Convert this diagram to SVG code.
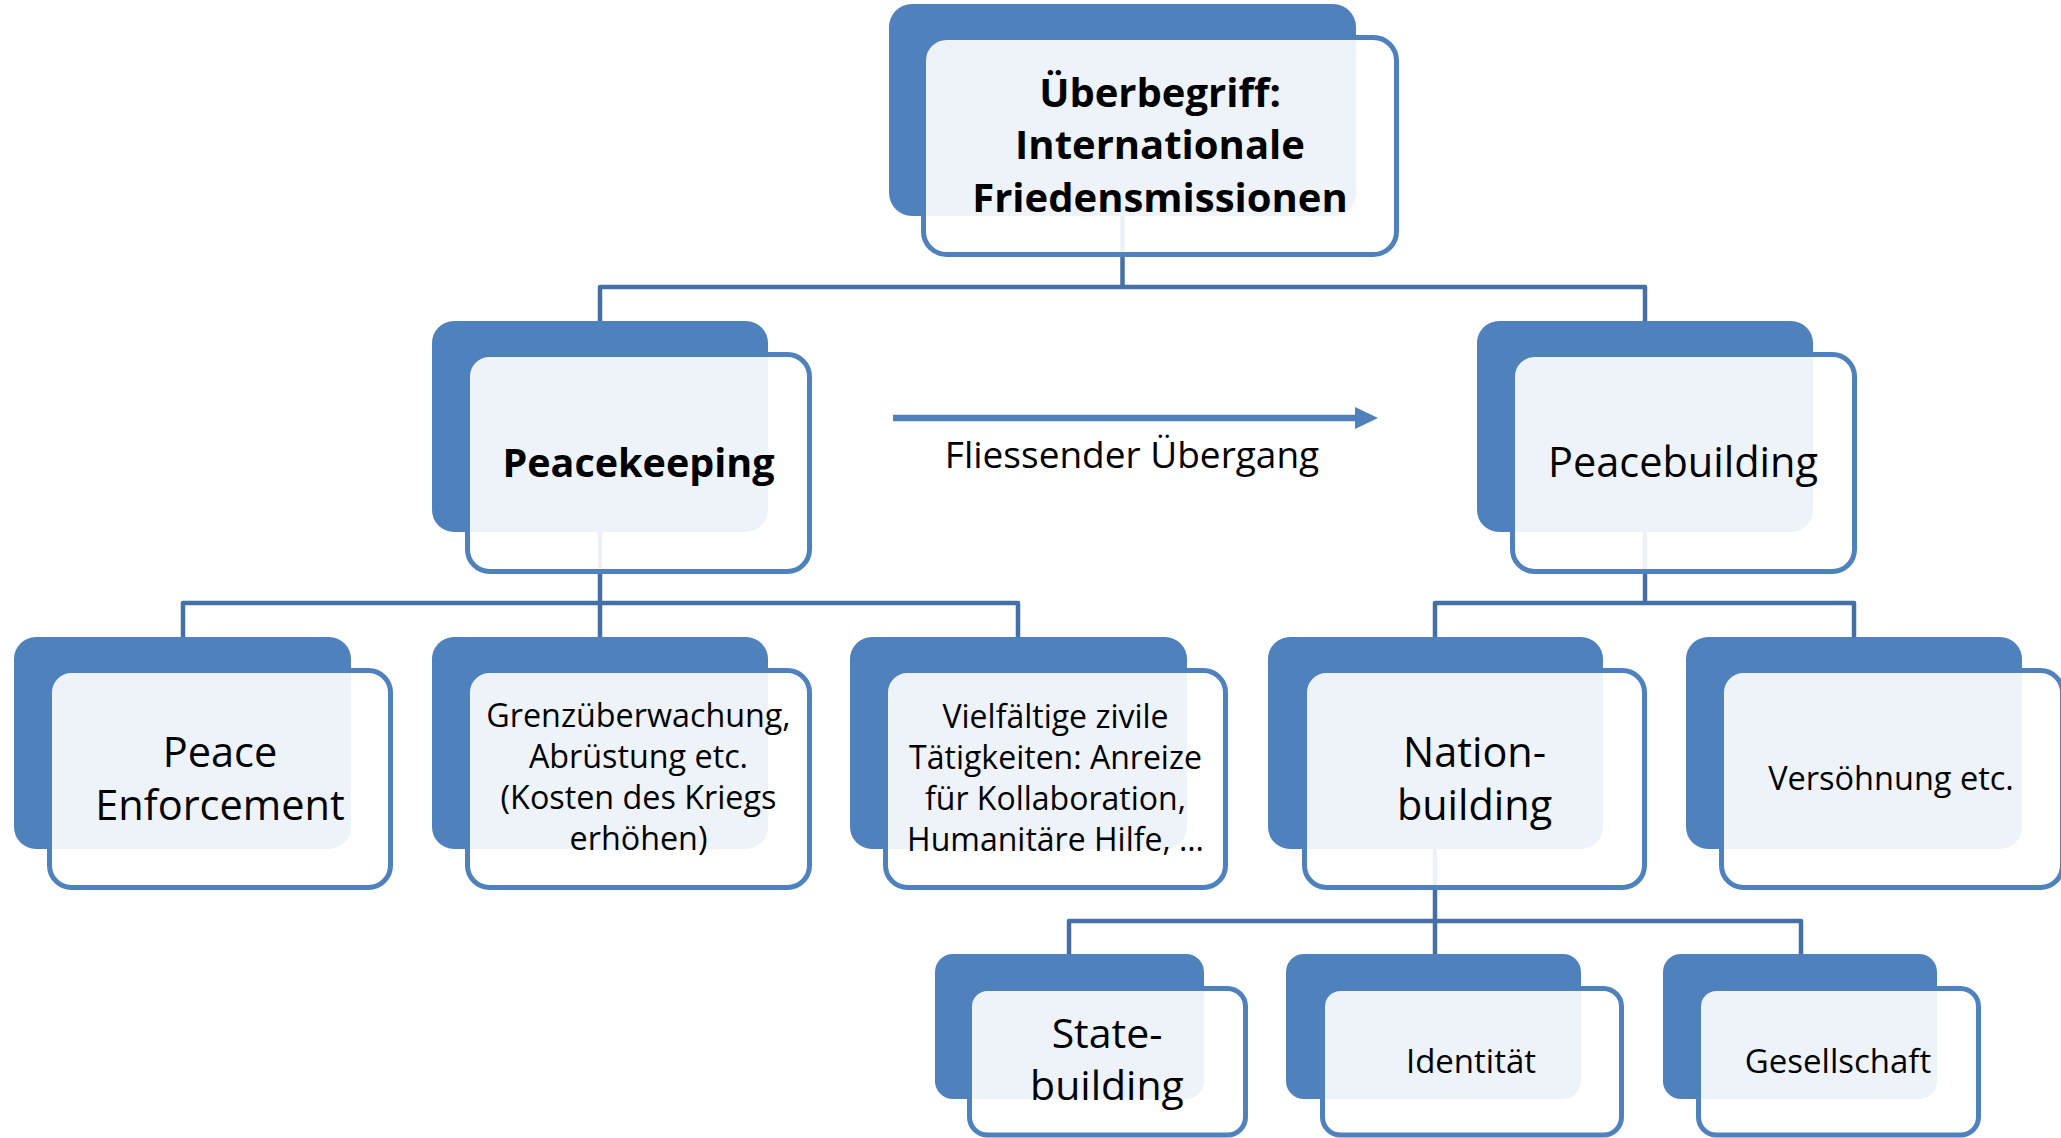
<svg xmlns="http://www.w3.org/2000/svg" width="2061" height="1138" viewBox="0 0 2061 1138">
<style>
.back{fill:#4F81BD}
.front{fill:#FFFFFF;fill-opacity:0.9;stroke:#4F81BD;stroke-width:5}
.conn{fill:none;stroke:#4470A6;stroke-width:4.5;stroke-linejoin:round}
text{font-family:"Open Sans",Lato,"Liberation Sans",sans-serif;fill:#000;text-anchor:middle}
.b{font-weight:bold}
</style>
<rect width="2061" height="1138" fill="#FFFFFF"/>
<g id="connectors">
<path class="conn" d="M1122.5,216 V287 M600,321 V287 H1645 V321"/>
<path class="conn" d="M600,532 V603 M183,637 V603 H1018 V637 M600,603 V637"/>
<path class="conn" d="M1645,532 V603 M1435,637 V603 H1854 V637"/>
<path class="conn" d="M1435,849 V921 M1069,954 V921 H1801 V954 M1435,921 V954"/>
<g id="arrow">
<line x1="893" y1="418" x2="1358" y2="418" stroke="#4F81BD" stroke-width="6.5"/>
<polygon points="1355,407 1378,418 1355,429" fill="#4F81BD"/>
</g>
</g>
<text x="1132" y="468" font-size="37">Fliessender Übergang</text>
<g id="n-top">
<rect class="back" x="889" y="4" width="467" height="212" rx="23"/>
<rect class="front" x="923.5" y="37.5" width="473" height="217" rx="23"/>
<text class="b" font-size="40"><tspan x="1160" y="107">Überbegriff:</tspan><tspan x="1160" y="159">Internationale</tspan><tspan x="1160" y="212">Friedensmissionen</tspan></text>
</g>
<g id="n-peacekeeping">
<rect class="back" x="432" y="321" width="336" height="211" rx="22"/>
<rect class="front" x="467.5" y="354.5" width="342" height="217" rx="22"/>
<text class="b" font-size="39.5" x="638.5" y="477">Peacekeeping</text>
</g>
<g id="n-peacebuilding">
<rect class="back" x="1477" y="321" width="336" height="211" rx="22"/>
<rect class="front" x="1512.5" y="354.5" width="342" height="217" rx="22"/>
<text font-size="41.5" x="1683" y="477">Peacebuilding</text>
</g>
<g id="n-enforcement">
<rect class="back" x="14" y="637" width="337" height="212" rx="22"/>
<rect class="front" x="49.5" y="670.5" width="341" height="217" rx="22"/>
<text font-size="41.5"><tspan x="220" y="767">Peace</tspan><tspan x="220" y="820">Enforcement</tspan></text>
</g>
<g id="n-grenz">
<rect class="back" x="432" y="637" width="336" height="212" rx="22"/>
<rect class="front" x="467.5" y="670.5" width="342" height="217" rx="22"/>
<text font-size="32.3"><tspan x="638.5" y="727">Grenzüberwachung,</tspan><tspan x="638.5" y="768">Abrüstung etc.</tspan><tspan x="638.5" y="809">(Kosten des Kriegs</tspan><tspan x="638.5" y="850">erhöhen)</tspan></text>
</g>
<g id="n-zivil">
<rect class="back" x="850" y="637" width="337" height="212" rx="22"/>
<rect class="front" x="885.5" y="670.5" width="340" height="217" rx="22"/>
<text font-size="32"><tspan x="1055.5" y="728">Vielfältige zivile</tspan><tspan x="1055.5" y="769">Tätigkeiten: Anreize</tspan><tspan x="1055.5" y="810">für Kollaboration,</tspan><tspan x="1055.5" y="851">Humanitäre Hilfe, …</tspan></text>
</g>
<g id="n-nation">
<rect class="back" x="1268" y="637" width="335" height="212" rx="22"/>
<rect class="front" x="1304.5" y="670.5" width="340" height="217" rx="22"/>
<text font-size="41.4"><tspan x="1474.5" y="767">Nation-</tspan><tspan x="1474.5" y="820">building</tspan></text>
</g>
<g id="n-versoehnung">
<rect class="back" x="1686" y="637" width="336" height="212" rx="22"/>
<rect class="front" x="1721.5" y="670.5" width="341" height="217" rx="22"/>
<text font-size="32.5" x="1891" y="790">Versöhnung etc.</text>
</g>
<g id="n-state">
<rect class="back" x="935" y="954" width="269" height="145" rx="18"/>
<rect class="front" x="969.5" y="988.5" width="276" height="146.5" rx="18"/>
<text font-size="41"><tspan x="1107" y="1048">State-</tspan><tspan x="1107" y="1100">building</tspan></text>
</g>
<g id="n-identitaet">
<rect class="back" x="1286" y="954" width="295" height="145" rx="18"/>
<rect class="front" x="1322.5" y="988.5" width="299" height="146.5" rx="18"/>
<text font-size="33" x="1471" y="1073">Identität</text>
</g>
<g id="n-gesellschaft">
<rect class="back" x="1663" y="954" width="274" height="145" rx="18"/>
<rect class="front" x="1698.5" y="988.5" width="280" height="146.5" rx="18"/>
<text font-size="33" x="1838" y="1073">Gesellschaft</text>
</g>
</svg>
